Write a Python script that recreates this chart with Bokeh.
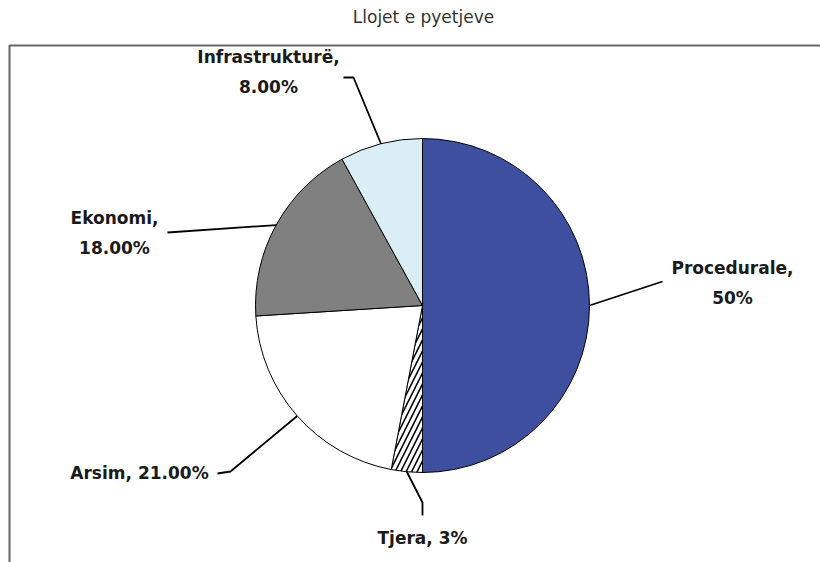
import math
from bokeh.plotting import figure
from bokeh.models import Range1d, Label
from bokeh.core.properties import value
from bokeh.embed import file_html
from bokeh.resources import INLINE

# ---- data ----
title_text = "Llojet e pyetjeve"
categories = ["Procedurale", "Tjera", "Arsim", "Ekonomi", "Infrastrukturë"]
values = [50, 3, 21, 18, 8]
value_labels = ["50%", "3%", "21.00%", "18.00%", "8.00%"]

# ---- style / layout ----
W, H = 820, 562
colors = ["#3F4FA0", "#FFFFFF", "#FFFFFF", "#808080", "#DAEEF5"]
hatches = [" ", "/", " ", " ", " "]
separators = [",\n", ", ", ", ", ",\n", ",\n"]

def sx(x):  # screen px -> data x
    return x

def sy(y):  # screen px -> data y
    return H - y

CX, CY, R = sx(422), sy(305), 167
# label centres and leader elbow points in screen px
label_pos = [(732, 282), (422, 537), (139, 472), (114, 232), (268, 71)]
leader_pts = [
    [(662, 281)],
    [(422, 502), (422, 515)],
    [(230, 471), (217, 473)],
    [(167, 232)],
    [(353, 77), (343, 77)],
]

p = figure(width=W, height=H, output_backend="svg", toolbar_location=None,
           x_range=Range1d(0, W), y_range=Range1d(0, H),
           min_border=0, outline_line_color=None)
p.axis.visible = False
p.grid.visible = False
p.background_fill_color = "white"
p.border_fill_color = "white"

# frame box (right/bottom fall outside the view)
p.quad(left=sx(9), right=sx(1000), top=sy(45), bottom=sy(900),
       fill_color=None, line_color="#666666", line_width=2)

total = sum(values)
starts, ends, mids = [], [], []
cum = 0.0
for v in values:
    a0 = math.pi / 2 - 2 * math.pi * cum / total
    cum += v
    a1 = math.pi / 2 - 2 * math.pi * cum / total
    starts.append(a0)
    ends.append(a1)
    mids.append((a0 + a1) / 2)

for i in range(len(values)):
    p.wedge(x=CX, y=CY, radius=R, start_angle=starts[i], end_angle=ends[i],
            direction="clock", fill_color=colors[i], line_color="black",
            line_width=1, hatch_pattern=hatches[i], hatch_color="black",
            hatch_scale=11, hatch_weight=1.6)

# leader lines
xs, ys = [], []
for i, m in enumerate(mids):
    ex, ey = CX + R * math.cos(m), CY + R * math.sin(m)
    lx = [ex] + [sx(px) for px, _ in leader_pts[i]]
    ly = [ey] + [sy(py) for _, py in leader_pts[i]]
    xs.append(lx)
    ys.append(ly)
p.multi_line(xs=xs, ys=ys, line_color="black", line_width=1.8)

# labels
texts = [c + s + v for c, s, v in zip(categories, separators, value_labels)]
p.text(x=[sx(px) for px, _ in label_pos], y=[sy(py) for _, py in label_pos],
       text=texts, text_align="center", text_baseline="middle",
       text_font=value("DejaVu Sans"), text_font_size="17px",
       text_font_style="bold", text_color="#1a1a1a", text_line_height=1.5)

p.add_layout(Label(x=sx(423), y=sy(16), text=title_text, text_align="center",
                   text_baseline="middle", text_font="DejaVu Sans",
                   text_font_size="17px", text_color="#333333"))

open("out.html", "w").write(file_html(p, INLINE))
